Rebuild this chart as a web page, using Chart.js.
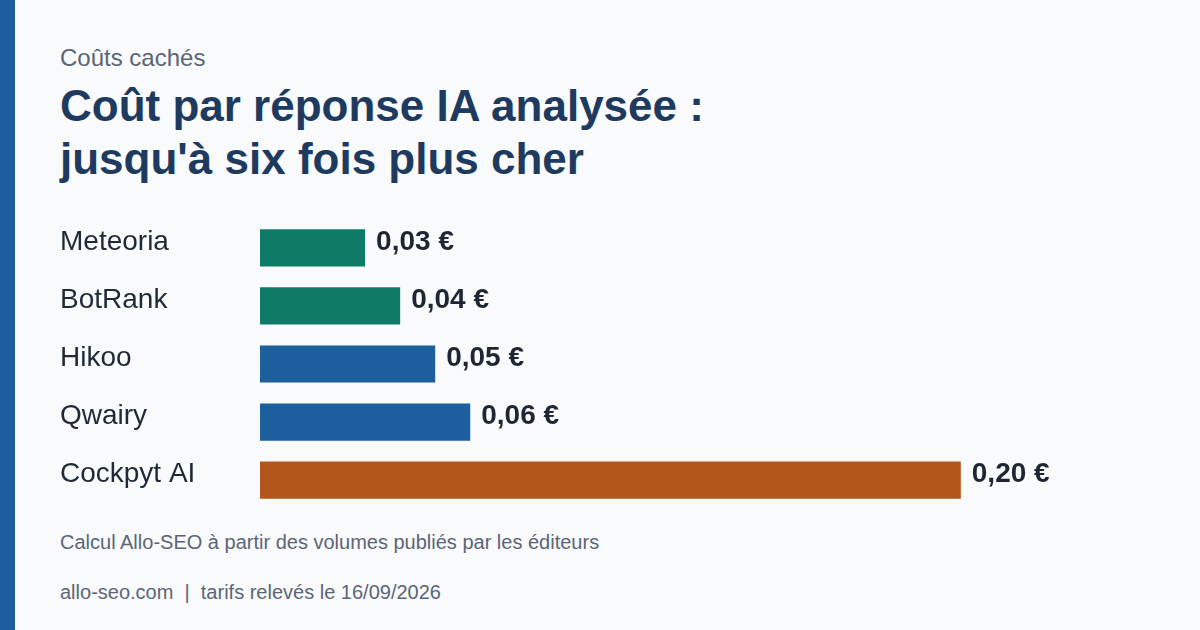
<!DOCTYPE html>
<html lang="fr">
<head>
<meta charset="utf-8">
<title>Coût par réponse IA analysée</title>
<script src="https://cdn.jsdelivr.net/npm/chart.js@4"></script>
<style>
  html, body { margin: 0; padding: 0; }
  body {
    width: 1200px; height: 630px; overflow: hidden; position: relative;
    background: #f8fafc;
    font-family: "Liberation Sans", Arial, sans-serif;
  }
  .stripe { position: absolute; left: 0; top: 0; width: 15px; height: 630px; background: #1c5f9c; }
  .kicker { position: absolute; left: 60px; top: 46px; font-size: 24px; line-height: 24px; color: #5b6577; }
  .title {
    position: absolute; left: 60px; top: 79px; font-size: 44px; line-height: 53px;
    font-weight: bold; color: #1e3a5f;
  }
  .note { position: absolute; left: 60px; font-size: 20px; line-height: 20px; color: #5b6577; white-space: pre; }
  /* chart.js keeps ~17px above/below the bars for the first/last tick label */
  #wrap { position: absolute; left: 60px; top: 202px; width: 1076px; height: 324px; }
</style>
</head>
<body>
<div class="stripe"></div>
<div class="kicker">Coûts cachés</div>
<div class="title">Coût par réponse IA analysée :<br>jusqu'à six fois plus cher</div>
<div id="wrap"><canvas id="chart"></canvas></div>
<div class="note" style="top:532px">Calcul Allo-SEO à partir des volumes publiés par les éditeurs</div>
<div class="note" style="top:582px">allo-seo.com  |  tarifs relevés le 16/09/2026</div>

<script>
// data (euros per analysed answer)
const tools = ['Meteoria', 'BotRank', 'Hikoo', 'Qwairy', 'Cockpyt AI']
const costs = [0.03, 0.04, 0.05, 0.06, 0.20]
const barColors = ['#0f7b67', '#0f7b67', '#1c5f9c', '#1c5f9c', '#b3561c']

const fmt = v => v.toFixed(2).replace('.', ',') + ' €'

// writes "0,03 €" etc. just after each bar
const valueLabels = {
    id: 'valueLabels',
    afterDatasetsDraw(chart) {
        const ctx = chart.ctx
        const meta = chart.getDatasetMeta(0)
        ctx.save()
        ctx.font = 'bold 28px "Liberation Sans", Arial, sans-serif'
        ctx.fillStyle = '#1f2633'
        ctx.textAlign = 'left'
        ctx.textBaseline = 'middle'
        meta.data.forEach((bar, i) => {
            ctx.fillText(fmt(costs[i]), bar.x + 11, bar.y - 6)
        })
        ctx.restore()
    }
}

new Chart(document.getElementById('chart'), {
    type: 'bar',
    data: {
        labels: tools,
        datasets: [{
            data: costs,
            backgroundColor: barColors,
            borderWidth: 0,
            categoryPercentage: 0.64,
            barPercentage: 1.0
        }]
    },
    options: {
        indexAxis: 'y',
        responsive: true,
        maintainAspectRatio: false,
        animation: false,
        layout: { padding: 0 },
        plugins: {
            legend: { display: false },
            tooltip: { enabled: false }
        },
        scales: {
            x: {
                display: false,
                min: 0,
                max: 0.25
            },
            y: {
                grid: { display: false },
                border: { display: false },
                afterFit: scale => { scale.width = 200 },
                ticks: {
                    crossAlign: 'far',
                    padding: 0,
                    labelOffset: -6,
                    color: '#1f2937',
                    font: { size: 28, family: '"Liberation Sans", Arial, sans-serif' }
                }
            }
        }
    },
    plugins: [valueLabels]
})
</script>
</body>
</html>
